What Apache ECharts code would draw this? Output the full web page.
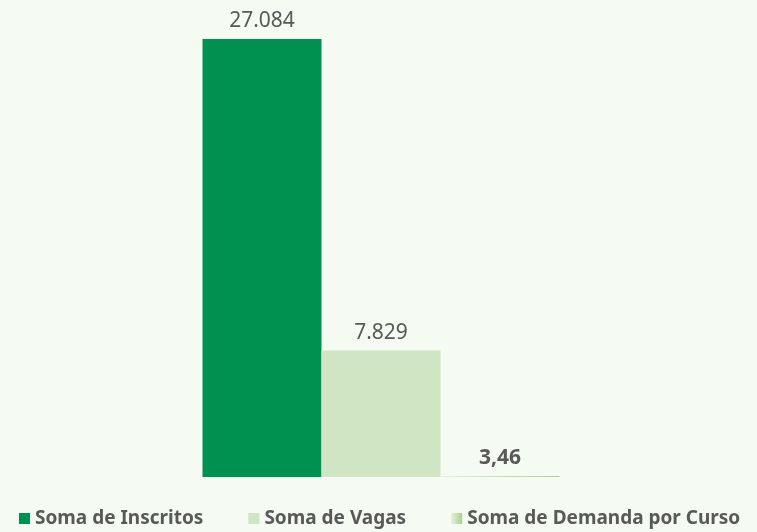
<!DOCTYPE html>
<html>
<head>
<meta charset="utf-8">
<script src="https://cdn.jsdelivr.net/npm/echarts@6/dist/echarts.min.js"></script>
<style>
html, body { margin: 0; padding: 0; background: #F5FAF2; }
#chart { width: 757px; height: 532px; }
</style>
</head>
<body>
<div id="chart"></div>
<script>
var categories = [''];
var seriesNames = ['Soma de Inscritos', 'Soma de Vagas', 'Soma de Demanda por Curso'];
var inscritos = [27084];
var vagas = [7829];
var demanda = [3.46];

// formato pt-BR: 27.084 / 3,46
function fmt(v) {
	if (v < 100) return v.toFixed(2).replace('.', ',');
	return String(Math.round(v)).replace(/\B(?=(\d{3})+(?!\d))/g, '.');
}

var chart = echarts.init(document.getElementById('chart'));
chart.setOption({
	backgroundColor: '#F5FAF2',
	animation: false,
	textStyle: { fontFamily: 'Noto Sans' },
	grid: { left: 5, right: 0, top: 39, bottom: 55 },
	legend: {
		bottom: -1,
		left: 14,
		itemWidth: 11,
		itemHeight: 11,
		itemGap: 45,
		icon: 'rect',
		textStyle: { color: '#595959', fontSize: 19, fontWeight: 'bold', fontFamily: 'Noto Sans' },
		data: seriesNames
	},
	xAxis: {
		type: 'category',
		data: categories,
		axisLine: { show: false },
		axisTick: { show: false },
		axisLabel: { show: false }
	},
	yAxis: {
		type: 'value',
		min: 0,
		max: 27084,
		show: false,
		splitLine: { show: false }
	},
	series: [
		{
			name: seriesNames[0],
			type: 'bar',
			data: inscritos,
			barWidth: 119,
			barGap: '0%',
			itemStyle: { color: '#009150' },
			label: { show: true, position: 'top', distance: 7, color: '#595959', fontSize: 21, formatter: function (p) { return fmt(p.value); } }
		},
		{
			name: seriesNames[1],
			type: 'bar',
			data: vagas,
			barWidth: 119,
			barGap: '0%',
			itemStyle: { color: '#CFE5C3' },
			label: { show: true, position: 'top', distance: 7, color: '#595959', fontSize: 21, formatter: function (p) { return fmt(p.value); } }
		},
		{
			name: seriesNames[2],
			type: 'bar',
			data: demanda,
			barWidth: 119,
			barGap: '0%',
			barMinHeight: 1,
			itemStyle: {
				color: new echarts.graphic.LinearGradient(0, 0, 1, 0, [
					{ offset: 0, color: '#E4F1DC' },
					{ offset: 1, color: '#A9D18E' }
				])
			},
			label: { show: true, position: 'top', distance: 7, color: '#595959', fontSize: 21, fontWeight: 'bold', formatter: function (p) { return fmt(p.value); } }
		}
	]
});
</script>
</body>
</html>
